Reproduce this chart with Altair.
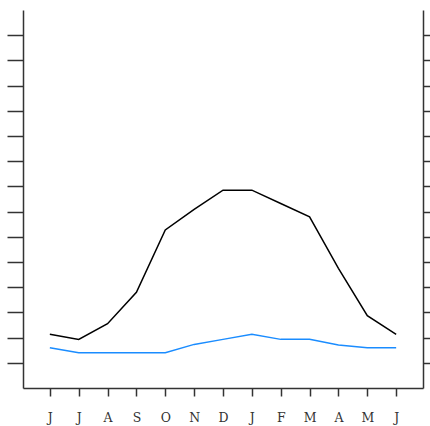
import altair as alt
import pandas as pd

months = ["J", "J", "A", "S", "O", "N", "D", "J", "F", "M", "A", "M", "J"]
series_black = [2.13, 1.93, 2.55, 3.8, 6.27, 7.09, 7.85, 7.85, 7.32, 6.79, 4.75, 2.87, 2.13]
series_blue = [1.6, 1.4, 1.4, 1.4, 1.4, 1.73, 1.93, 2.13, 1.93, 1.93, 1.71, 1.6, 1.6]
y_ticks = list(range(1, 15))

rows = []
for i, m in enumerate(months):
    rows.append({"idx": i, "month": m, "series": "a", "value": series_black[i]})
    rows.append({"idx": i, "month": m, "series": "b", "value": series_blue[i]})
df = pd.DataFrame(rows)

label_expr = "[" + ",".join("'%s'" % m for m in months) + "][datum.value]"

axis_color = "#333333"

x = alt.X(
    "idx:O",
    scale=alt.Scale(type="point", padding=0.93),
    axis=alt.Axis(
        title=None,
        labelExpr=label_expr,
        labelAngle=0,
        labelFont="DejaVu Serif",
        labelFontSize=12.5,
        labelFontWeight="normal",
        labelColor="#333333",
        labelBaseline="alphabetic",
        labelPadding=25,
        tickSize=8,
        tickColor=axis_color,
        tickWidth=1.5,
        domainColor=axis_color,
        domainWidth=1.5,
        grid=False,
    ),
)

yscale = alt.Scale(domain=[0, 15], nice=False, zero=True)

lines = alt.Chart(df).mark_line(strokeWidth=1.5).encode(
    x=x,
    y=alt.Y(
        "value:Q",
        scale=yscale,
        axis=alt.Axis(
            title=None,
            orient="left",
            values=y_ticks,
            labels=False,
            tickSize=16,
            tickColor=axis_color,
            tickWidth=1.5,
            domainColor=axis_color,
            domainWidth=1.5,
            grid=False,
        ),
    ),
    color=alt.Color(
        "series:N",
        scale=alt.Scale(domain=["a", "b"], range=["#000000", "#1a8cff"]),
        legend=None,
    ),
    detail="series:N",
)

right = alt.Chart(df).mark_line(opacity=0).encode(
    x=x,
    y=alt.Y(
        "value:Q",
        scale=yscale,
        axis=alt.Axis(
            title=None,
            orient="right",
            values=y_ticks,
            labels=False,
            tickSize=7,
            tickColor=axis_color,
            tickWidth=1.5,
            domainColor=axis_color,
            domainWidth=1.5,
            grid=False,
        ),
    ),
    detail="series:N",
)

chart = (
    alt.layer(lines, right)
    .resolve_scale(y="independent")
    .properties(
        width=400,
        height=378,
        autosize=alt.AutoSizeParams(type="none"),
        padding={"left": 23, "top": 10, "right": 7, "bottom": 38},
        background="#ffffff",
    )
    .configure_view(stroke=None)
)

chart.save("out.html", embed_options={"renderer": "svg", "actions": False})
